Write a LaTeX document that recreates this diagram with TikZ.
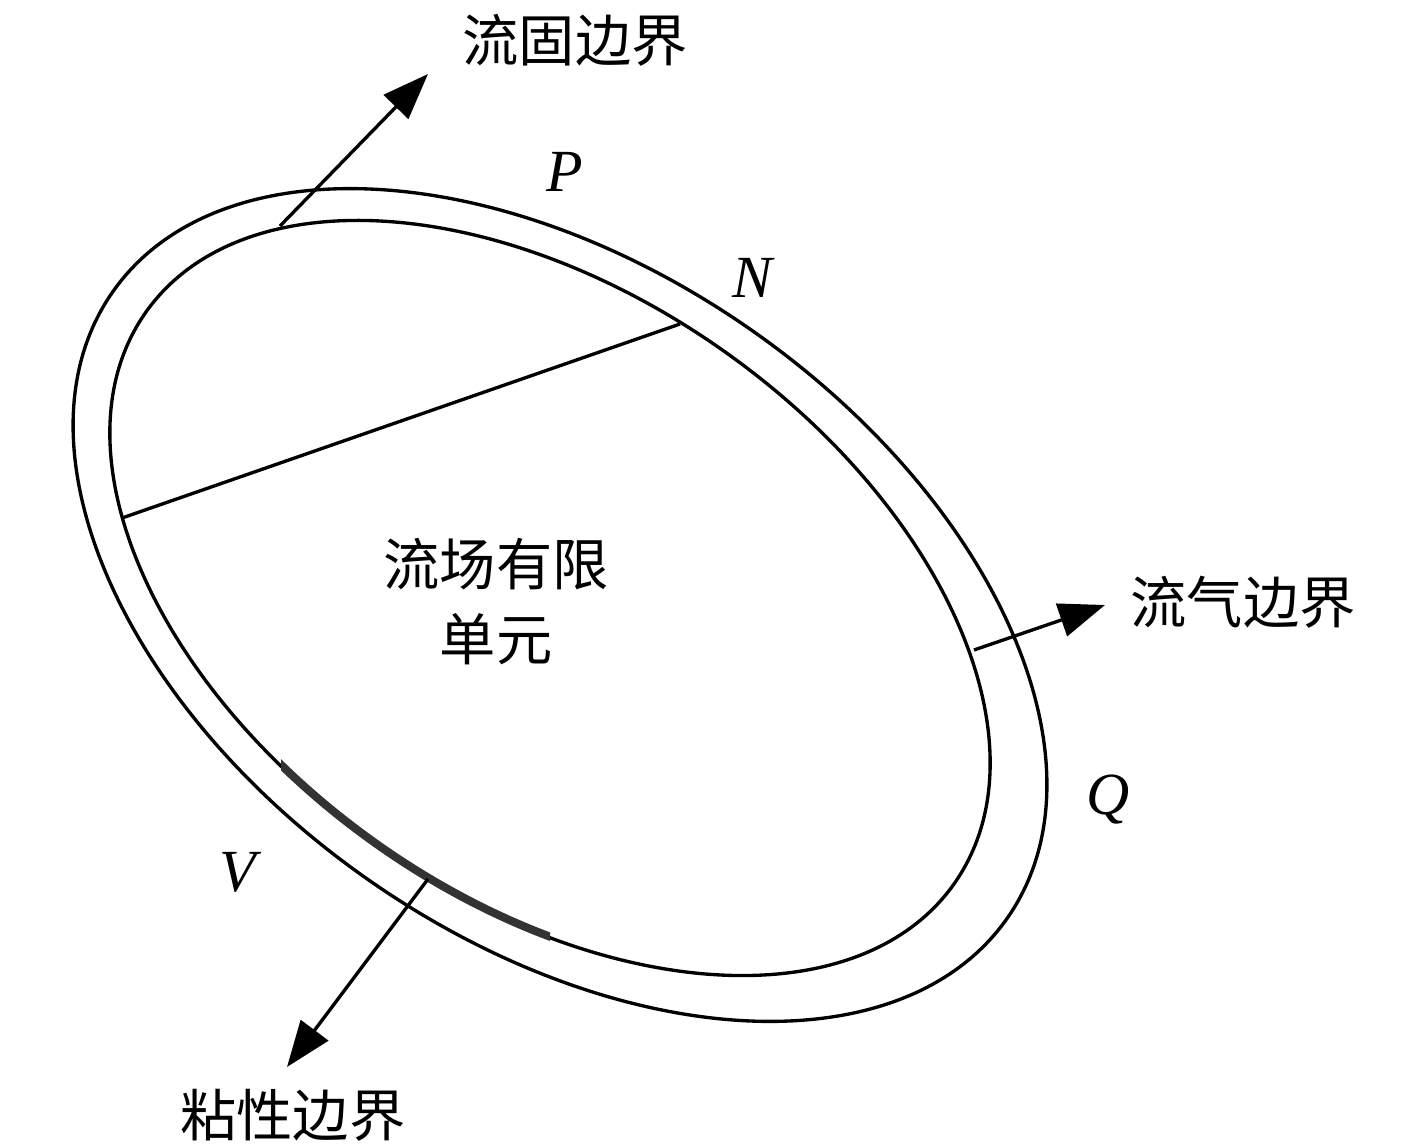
\documentclass[tikz,border=0pt]{standalone}
\usepackage{fontspec}
\setmainfont{Liberation Serif}
\newfontfamily\cjk{Noto Sans CJK SC}
\usetikzlibrary{arrows.meta}
\tikzset{
    ring_line/.style={draw=black, line width=0.95pt},
    visc_line/.style={draw=black!80, line width=2.3pt},
    bnd_arrow/.style={
        -{Triangle[length=0.46cm, width=0.34cm]}, draw=black, line width=0.95pt
    },
    cn_label/.style={
        font=\cjk\fontsize{16}{21.3}\selectfont, align=center, inner sep=0pt
    },
    pt_label/.style={font=\fontsize{17}{20}\selectfont\itshape, inner sep=0pt}
}

\begin{document}
\begin{tikzpicture}[x=0.01cm, y=-0.01cm]
    \useasboundingbox (0,0) rectangle (1417,1145);

    % outer and inner boundary
    \coordinate (outer_c) at (560,605);
    \coordinate (inner_c) at (550,598);
    \draw[ring_line, rotate around={-35:(outer_c)}]
        (outer_c) ellipse [x radius=546, y radius=335];
    \draw[ring_line, rotate around={-35.3:(inner_c)}]
        (inner_c) ellipse [x radius=495, y radius=302];

    % viscous part of the wall
    \begin{scope}
        \clip (281,730) rectangle (550,960);
        \draw[visc_line, rotate around={-35.3:(inner_c)}]
            (inner_c) ellipse [x radius=494, y radius=301];
    \end{scope}

    \coordinate (chord_l) at (122,518);
    \coordinate (chord_r) at (680,324);
    \draw[ring_line] (chord_l) -- (chord_r);

    \coordinate (fs_foot) at (280,226);
    \coordinate (fs_tip) at (428,74);
    \coordinate (gas_foot) at (974,650);
    \coordinate (gas_tip) at (1105,605);
    \coordinate (visc_foot) at (428,879);
    \coordinate (visc_tip) at (287,1067);
    \draw[bnd_arrow] (fs_foot) -- (fs_tip);
    \draw[bnd_arrow] (gas_foot) -- (gas_tip);
    \draw[bnd_arrow] (visc_foot) -- (visc_tip);

    \node[cn_label] (lbl_fs) at (575,40) {流固边界};
    \node[cn_label] (lbl_gas) at (1243,602) {流气边界};
    \node[cn_label] (lbl_visc) at (293,1115) {粘性边界};
    \node[cn_label] (lbl_field) at (496,602) {流场有限\\单元};

    \node[pt_label] (pt_p) at (565,172) {P};
    \node[pt_label] (pt_n) at (752,278) {N};
    \node[pt_label] (pt_q) at (1108,800) {Q};
    \node[pt_label] (pt_v) at (238,872) {V};

\end{tikzpicture}
\end{document}
